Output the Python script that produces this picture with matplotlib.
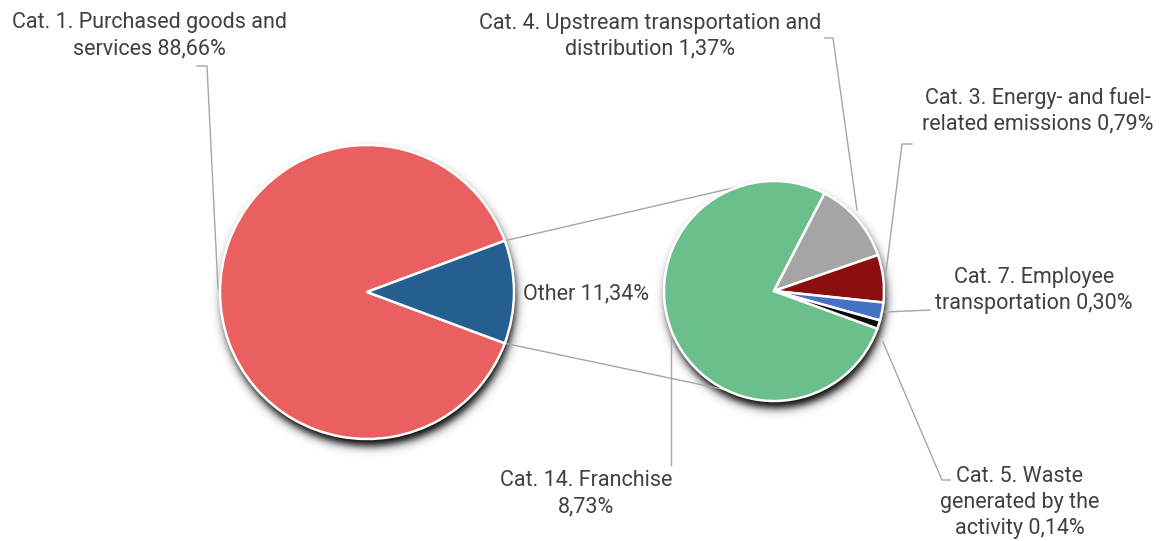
import numpy as np
import matplotlib
matplotlib.use("Agg")
import matplotlib.pyplot as plt

# --- data -------------------------------------------------------------
main_names = ["Cat. 1. Purchased goods and\nservices ", "Other "]
main_values = [88.66, 11.34]
main_colors = ["#EA5F60", "#255E91"]

sub_names = [
    "Cat. 14. Franchise\n",
    "Cat. 4. Upstream transportation and\ndistribution ",
    "Cat. 3. Energy- and fuel-\nrelated emissions ",
    "Cat. 7. Employee\ntransportation ",
    "Cat. 5. Waste\ngenerated by the\nactivity ",
]
sub_values = [8.73, 1.37, 0.79, 0.30, 0.14]
sub_colors = ["#6ABF8B", "#A5A5A5", "#8B0F0F", "#4472C4", "#0A0A0A"]


def pct(v):
    return f"{v:.2f}".replace(".", ",") + "%"


# --- canvas in pixel units (y measured downward from top) --------------
W, H = 1168, 541
fig = plt.figure(figsize=(W / 100, H / 100), dpi=100)
ax = fig.add_axes([0, 0, 1, 1])


def Y(y):
    return H - y


plt.rcParams["font.family"] = ["Roboto", "DejaVu Sans"]
TXT = "#404040"
LEAD = "#A6A6A6"
FS = 15.5

c1, r1 = (367, 292), 147
c2, r2 = (774, 291), 110

# soft drop shadows beneath both pies
yy, xx = np.mgrid[0:H, 0:W] + 0.5
alpha = np.zeros((H, W))
for (cx, cy), r in [(c1, r1), (c2, r2)]:
    d = np.hypot(xx - (cx + 2), yy - (cy + 7))
    a = 1.0 / (1 + np.exp((d - r) / 2.6))
    alpha = np.maximum(alpha, a)
shadow = np.zeros((H, W, 4))
shadow[..., 3] = alpha
ax.imshow(shadow, extent=(0, W, 0, H), origin="upper", zorder=1,
          interpolation="bilinear")

# primary pie, "Other" wedge centred on the right-hand side
half = main_values[1] / sum(main_values) * 360 / 2
ax.pie(main_values, colors=main_colors, startangle=half, counterclock=True,
       center=(c1[0], Y(c1[1])), radius=r1, frame=True,
       wedgeprops=dict(edgecolor="white", linewidth=1.8, zorder=3))

# secondary pie breaking down "Other"
sub_start = 340
ax.pie(sub_values, colors=sub_colors, startangle=sub_start, counterclock=False,
       center=(c2[0], Y(c2[1])), radius=r2, frame=True,
       wedgeprops=dict(edgecolor="white", linewidth=1.8, zorder=3))

# connector lines between the two pies
for a_main, a_sub in [(half, 107.6), (-half, 244.0)]:
    p0 = (c1[0] + r1 * np.cos(np.radians(a_main)),
          Y(c1[1]) + r1 * np.sin(np.radians(a_main)))
    p1 = (c2[0] + r2 * np.cos(np.radians(a_sub)),
          Y(c2[1]) + r2 * np.sin(np.radians(a_sub)))
    ax.plot([p0[0], p1[0]], [p0[1], p1[1]], color=LEAD, lw=1.0, zorder=2)

# leader lines (label side -> wedge side)
leaders = [
    [(197, 66), (207, 66), (218, 289)],
    [(825, 38), (833, 38), (857, 210)],
    [(912, 144), (902, 144), (886, 272)],
    [(930, 310), (885, 312)],
    [(950, 480), (942, 480), (883, 342)],
    [(671, 332), (671, 465)],
]
for pts in leaders:
    xs = [p[0] for p in pts]
    ys = [Y(p[1]) for p in pts]
    ax.plot(xs, ys, color=LEAD, lw=1.0, zorder=2)

# data labels
label_pos = {
    "main0": (149, 35.5),
    "main1": (586, 294),
    "sub0": (586, 493.5),
    "sub1": (650, 36),
    "sub2": (1038, 110.5),
    "sub3": (1034, 290.5),
    "sub4": (1020, 502.5),
}
for i, (n, v) in enumerate(zip(main_names, main_values)):
    x, y = label_pos[f"main{i}"]
    ax.text(x, Y(y), n + pct(v), ha="center", va="center",
            multialignment="center", fontsize=FS, color=TXT,
            linespacing=1.31, zorder=5)
for i, (n, v) in enumerate(zip(sub_names, sub_values)):
    x, y = label_pos[f"sub{i}"]
    ax.text(x, Y(y), n + pct(v), ha="center", va="center",
            multialignment="center", fontsize=FS, color=TXT,
            linespacing=1.31, zorder=5)

ax.set_xlim(0, W)
ax.set_ylim(0, H)
ax.set_aspect("auto")
ax.axis("off")
fig.savefig("out.png", dpi=100, facecolor="white")
